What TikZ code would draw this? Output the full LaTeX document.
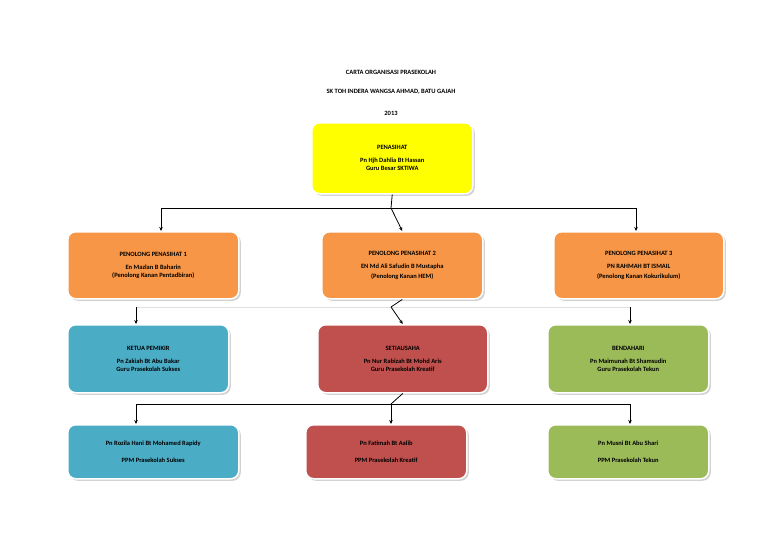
\documentclass[tikz,border=0pt]{standalone}
\usepackage{fontspec}
\setmainfont{Carlito}
\usetikzlibrary{shadows,arrows.meta}
\definecolor{cyel}{HTML}{FFFF00}
\definecolor{corg}{HTML}{F79646}
\definecolor{cblu}{HTML}{4BACC6}
\definecolor{cred}{HTML}{C0504D}
\definecolor{cgrn}{HTML}{9BBB59}
\tikzset{
 box/.style={draw=white,line width=1.5pt,rounded corners=8pt,anchor=north west,
   drop shadow={shadow xshift=2pt,shadow yshift=-2pt,fill=black!35},
   align=center,font=\fontsize{6.5}{13}\selectfont\bfseries,inner sep=2pt},
 conn/.style={line width=0.8pt,-{Stealth[length=4pt,width=3.5pt]}},
 ttl/.style={font=\fontsize{6.5}{8}\selectfont\bfseries}
}
\begin{document}
\begin{tikzpicture}[x=1pt,y=-1pt]
\useasboundingbox (0,0) rectangle (768,543);
\node[ttl] (t1) at (391,72) {CARTA ORGANISASI PRASEKOLAH};
\node[ttl] (t2) at (391,92) {SK TOH INDERA WANGSA AHMAD, BATU GAJAH};
\node[ttl] (t3) at (391,113) {2013};
\node[box,fill=cyel,minimum width=161pt,minimum height=71pt] (p) at (311,122) {PENASIHAT\\Pn Hjh Dahlia Bt Hassan\\[-5pt]Guru Besar SKTIWA};
\node[box,fill=corg,minimum width=171pt,minimum height=67pt] (a1) at (67,231) {PENOLONG PENASIHAT 1\\En Mazlan B Baharin\\[-5pt](Penolong Kanan Pentadbiran)};
\node[box,fill=corg,minimum width=161pt,minimum height=67pt] (a2) at (321,231) {PENOLONG PENASIHAT 2\\EN Md Ali Safudin B Mustapha\\[-3pt](Penolong Kanan HEM)};
\node[box,fill=corg,minimum width=170pt,minimum height=67pt] (a3) at (553,231) {PENOLONG PENASIHAT 3\\PN RAHMAH BT ISMAIL\\[-3pt](Penolong Kanan Kokurikulum)};
\node[box,fill=cblu,minimum width=161pt,minimum height=68pt] (b1) at (67,324) {KETUA PEMIKIR\\Pn Zakiah Bt Abu Bakar\\[-5pt]Guru Prasekolah Sukses};
\node[box,fill=cred,minimum width=170pt,minimum height=68pt] (b2) at (317,324) {SETIAUSAHA\\Pn Nur Rabizah Bt Mohd Aris\\[-5pt]Guru Prasekolah Kreatif};
\node[box,fill=cgrn,minimum width=161pt,minimum height=68pt] (b3) at (547,324) {BENDAHARI\\Pn Maimunah Bt Shamsudin\\[-5pt]Guru Prasekolah Tekun};
\node[box,fill=cblu,minimum width=171pt,minimum height=54pt] (c1) at (67,424) {Pn Rozila Hani Bt Mohamed Rapidy\\[4pt]PPM Prasekolah Sukses};
\node[box,fill=cred,minimum width=161pt,minimum height=54pt] (c2) at (305,424) {Pn Fatimah Bt Aalib\\[4pt]PPM Prasekolah Kreatif};
\node[box,fill=cgrn,minimum width=161pt,minimum height=54pt] (c3) at (547,424) {Pn Musni Bt Abu Shari\\[4pt]PPM Prasekolah Tekun};
\coordinate (j1) at (391,208);
\coordinate (j2) at (391,307);
\coordinate (j3) at (391,404);
\draw[line width=0.8pt] (p.south) -- (j1);
\draw[line width=0.8pt] (161,208) -- (636,208);
\draw[conn] (161,208) -- (161,231);
\draw[conn] (j1) -- (a2.north);
\draw[conn] (636,208) -- (636,231);
\draw[line width=0.8pt] (a2.south) -- (j2);
\draw[line width=1pt,black!12] (136,307) -- (630,307);
\draw[conn] (136,307) -- (136,324);
\draw[conn] (j2) -- (b2.north);
\draw[conn] (630,307) -- (630,324);
\draw[line width=0.8pt] (b2.south) -- (j3);
\draw[line width=0.8pt] (136,404) -- (630,404);
\draw[conn] (136,404) -- (136,424);
\draw[conn] (j3) -- (391,424);
\draw[conn] (630,404) -- (630,424);
\end{tikzpicture}
\end{document}
